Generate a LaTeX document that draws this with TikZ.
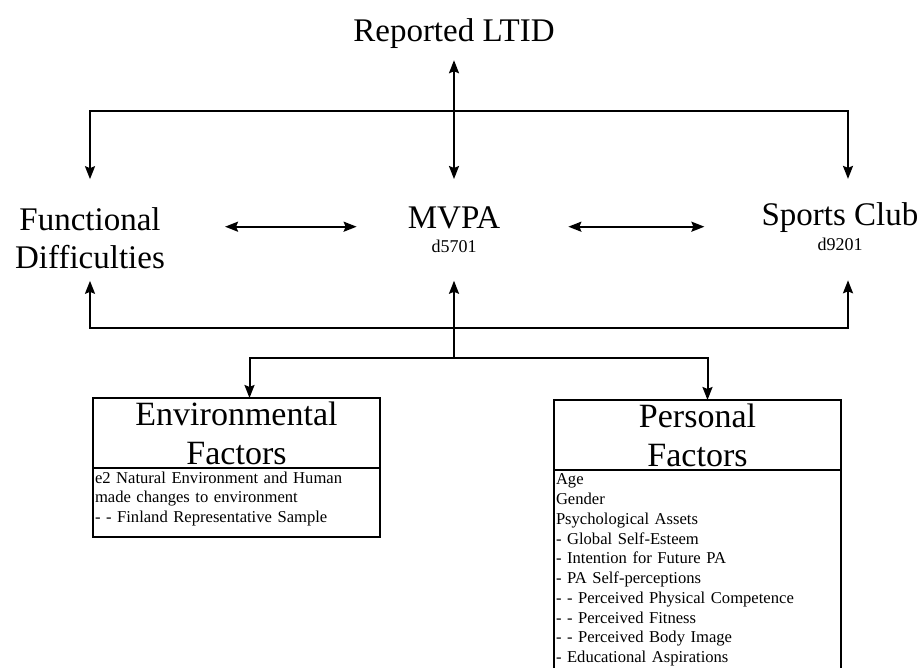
\documentclass[tikz,border=0pt]{standalone}
\usepackage{fontspec}
\setmainfont{Liberation Serif}
\usetikzlibrary{arrows.meta,positioning}

\begin{document}
\begin{tikzpicture}[
    x=1pt, y=-1pt,
    heading/.style={font=\fontsize{33}{38}\selectfont, align=center, inner sep=0pt},
    code/.style={font=\fontsize{18}{18}\selectfont, inner sep=0pt},
    titlebox/.style={draw, line width=2pt, minimum width=287pt, minimum height=70pt,
        align=center, inner sep=0pt, outer sep=0pt, font=\fontsize{34}{39}\selectfont},
    listbox/.style={draw, line width=2pt, text width=283pt, align=left,
        inner xsep=2pt, inner ysep=0pt, outer sep=0pt, text height=15pt,
        font=\fontsize{16.6}{19.75}\selectfont},
    link/.style={line width=2pt, -{Stealth[length=13pt, width=10pt, inset=2pt]}},
    twoway/.style={line width=2pt,
        {Stealth[length=13pt, width=10pt, inset=2pt]}-{Stealth[length=13pt, width=10pt, inset=2pt]}}
]
\useasboundingbox (0,0) rectangle (922,668);
\clip (0,0) rectangle (922,668);

% ======================
% Outcome
% ======================
\node[heading, anchor=base] (ltid) at (454,42) {Reported LTID};

% ======================
% Middle row
% ======================
\node[heading] (func) at (90,238) {Functional\\Difficulties};
\node[heading, anchor=base] (mvpa) at (454,229) {MVPA};
\node[code, below=10pt of mvpa] (mvpacode) {d5701};
\node[heading, anchor=base] (club) at (840,226) {Sports Club};
\node[code, below=5pt of club] (clubcode) {d9201};

% ======================
% Factor boxes
% ======================
\node[titlebox, anchor=north west] (env) at (93,398) {Environmental\\Factors};
\node[listbox, anchor=north, text depth=54pt] (envlist) at (env.south)
    {e2 Natural Environment and Human\\made changes to environment\\- - Finland Representative Sample};

\node[titlebox, anchor=north west] (pers) at (554,400) {Personal\\Factors};
\node[listbox, anchor=north, text depth=200pt] (perslist) at (pers.south)
    {Age\\Gender\\Psychological Assets\\- Global Self-Esteem\\- Intention for Future PA\\
     - PA Self-perceptions\\- - Perceived Physical Competence\\- - Perceived Fitness\\
     - - Perceived Body Image\\- Educational Aspirations};

% ======================
% Connections
% ======================
\coordinate (topbus) at (454,111);
\coordinate (midbus) at (454,328);
\coordinate (lowbus) at (454,358);

\draw[twoway, shorten <=11pt, shorten >=28pt] (ltid) -- (mvpa);
\draw[link, shorten >=28pt] (topbus) -| (func);
\draw[link, shorten >=24pt] (topbus) -| ([xshift=8pt]club.north);

\draw[twoway, shorten <=60pt, shorten >=51pt] (mvpa.mid west -| func.east) -- (mvpa.mid west);
\draw[twoway, shorten <=68pt, shorten >=57pt] (mvpa.mid east) -- (mvpa.mid east -| club.west);

\draw[link, shorten >=12pt] (midbus) -| (func);
\draw[link, shorten >=29pt] (midbus) -| ([xshift=8pt]clubcode.south);
\draw[link, shorten >=28pt] (lowbus) -- (mvpacode);

\draw[link] (lowbus) -| ([xshift=13pt]env.north);
\draw[link] (lowbus) -| ([xshift=10pt]pers.north);

\end{tikzpicture}
\end{document}
